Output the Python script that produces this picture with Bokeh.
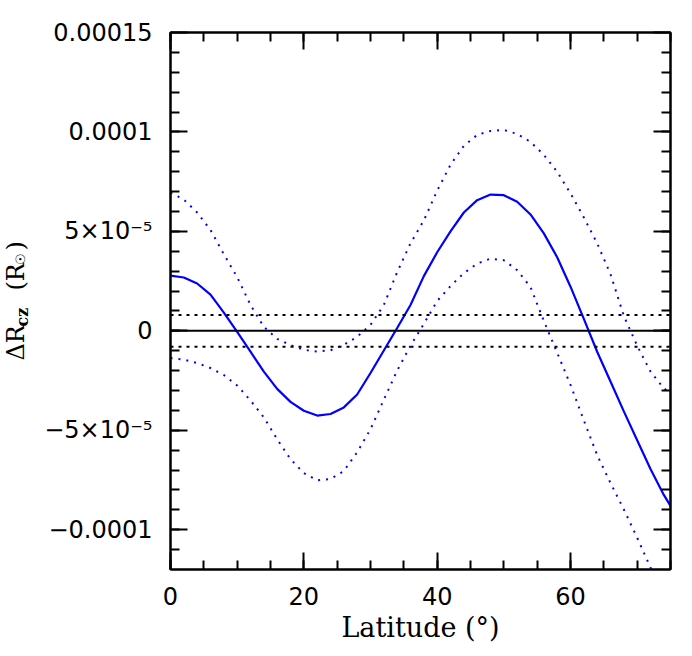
import math
from bokeh.plotting import figure
from bokeh.layouts import row
from bokeh.models import (Range1d, LinearAxis, FixedTicker, CustomJSTickFormatter,
                          Label, Span)
from bokeh.embed import file_html
from bokeh.resources import INLINE

# ---- data (units of 1e-5 R_sun) ----
lat_best = [0, 2, 4, 6, 8, 10, 12, 14, 16, 18, 20, 22, 24, 26, 28, 30, 32, 34, 36, 38,
            40, 42, 44, 46, 48, 50, 52, 54, 56, 58, 60, 62, 64, 66, 68, 70, 72, 74, 75]
dr_best = [2.78, 2.68, 2.38, 1.82, 0.92, -0.05, -1.05, -2.05, -2.92, -3.57, -4.02, -4.26,
           -4.18, -3.85, -3.20, -2.12, -0.99, 0.14, 1.30, 2.75, 3.95, 5.00, 5.95, 6.57,
           6.85, 6.82, 6.49, 5.85, 4.90, 3.70, 2.22, 0.60, -1.05, -2.55, -4.05, -5.50,
           -6.95, -8.25, -8.80]

lat_upper = [0, 2, 4, 6, 8, 10, 12, 14, 16, 18, 20, 22, 24, 26, 28, 30, 32, 34, 36, 38,
             40, 42, 44, 46, 48, 50, 52, 54, 56, 58, 60, 62, 64, 66, 68, 70, 72, 74, 75]
dr_upper = [6.95, 6.60, 5.95, 5.07, 3.85, 2.70, 1.30, 0.20, -0.40, -0.72, -0.95, -1.04,
            -0.98, -0.70, -0.30, 0.30, 1.30, 2.95, 4.40, 5.55, 7.05, 8.35, 9.30, 9.85,
            10.05, 10.10, 9.90, 9.50, 8.85, 8.00, 6.91, 5.70, 4.40, 2.85, 0.75, -0.75,
            -2.05, -2.90, -3.10]

lat_lower = [0, 2, 4, 6, 8, 10, 12, 14, 16, 18, 20, 22, 24, 26, 28, 30, 32, 34, 36, 38,
             40, 42, 44, 46, 48, 50, 52, 54, 56, 58, 60, 62, 64, 66, 68, 70, 72, 73]
dr_lower = [-1.37, -1.45, -1.62, -1.87, -2.22, -2.75, -3.50, -4.35, -5.45, -6.45, -7.15,
            -7.52, -7.45, -7.05, -6.10, -4.95, -3.46, -2.00, -0.75, 0.35, 1.50, 2.25,
            2.90, 3.38, 3.63, 3.55, 3.05, 2.20, 0.50, -1.10, -2.72, -4.50, -6.25, -7.65,
            -8.98, -10.40, -11.90, -12.60]

ref_zero = [0.0]
ref_band = [-0.8, 0.8]

scale = 1e-5
y_best = [v * scale for v in dr_best]
y_upper = [v * scale for v in dr_upper]
y_lower = [v * scale for v in dr_lower]

x_major = [0, 20, 40, 60]
x_minor = [5 * i for i in range(16)]
y_major = [-1e-4, -5e-5, 0.0, 5e-5, 1e-4, 1.5e-4]
y_major_labels = ["\u22120.0001", "\u22125\u00d710\u207b\u2075", "0",
                  "5\u00d710\u207b\u2075", "0.0001", "0.00015"]
y_minor = [k * 1e-5 for k in range(-12, 16)]

x_title = "Latitude (\u00b0)"
y_title_parts = ["\u0394R", "cz", "(R", "\u2609", ")"]

H = 648
LW = 40
FRAME_BOTTOM = 569   # page y of the (row-aligned) frame bottom
XSHIFT = 13

p = figure(width=644, height=H, output_backend="svg", toolbar_location=None,
           x_range=Range1d(0, 75), y_range=Range1d(-0.00012, 0.00015),
           min_border_left=130, min_border_right=14, min_border_top=32,
           min_border_bottom=79)
p.xgrid.visible = False
p.ygrid.visible = False
p.outline_line_color = "black"
p.outline_line_width = 2
p.background_fill_color = "white"
p.border_fill_color = "white"

yfmt = CustomJSTickFormatter(args=dict(vals=y_major, labs=y_major_labels), code="""
for (let i = 0; i < vals.length; i++) {
  if (Math.abs(tick - vals[i]) < 1e-12) { return labs[i]; }
}
return '';
""")
blank = CustomJSTickFormatter(code="return '';")


def style(ax, ticker, show_labels):
    ax.ticker = ticker
    ax.axis_line_width = 2
    ax.axis_line_color = "black"
    ax.major_tick_in = 17
    ax.major_tick_out = 0
    ax.minor_tick_in = 9
    ax.minor_tick_out = 0
    ax.major_tick_line_width = 2
    ax.minor_tick_line_width = 2
    ax.major_tick_line_color = "black"
    ax.minor_tick_line_color = "black"
    ax.major_label_text_font = "DejaVu Sans"
    ax.major_label_text_font_size = "24px"
    ax.major_label_text_color = "black"
    ax.major_label_standoff = 18
    if not show_labels:
        ax.formatter = blank
        ax.major_label_standoff = 0


style(p.xaxis[0], FixedTicker(ticks=x_major, minor_ticks=x_minor), True)
style(p.yaxis[0], FixedTicker(ticks=y_major, minor_ticks=y_minor), True)
p.xaxis[0].major_label_standoff = 17
p.yaxis[0].formatter = yfmt
p.xaxis[0].axis_label = x_title
p.xaxis[0].axis_label_text_font = "DejaVu Serif"
p.xaxis[0].axis_label_text_font_size = "27px"
p.xaxis[0].axis_label_text_font_style = "normal"
p.xaxis[0].axis_label_text_color = "black"
p.xaxis[0].axis_label_standoff = 4

top = LinearAxis()
right = LinearAxis()
style(top, FixedTicker(ticks=x_major, minor_ticks=x_minor), False)
style(right, FixedTicker(ticks=y_major, minor_ticks=y_minor), False)
p.add_layout(top, "above")
p.add_layout(right, "right")

# reference lines
p.add_layout(Span(location=ref_zero[0], dimension="width", line_color="black",
                  line_width=2))
for loc in ref_band:
    p.add_layout(Span(location=loc * scale, dimension="width", line_color="black",
                      line_width=2, line_dash="3 5"))

p.line(lat_best, y_best, line_color="#0000ff", line_width=2.2)
p.line(lat_upper, y_upper, line_color="#0000ff", line_width=2, line_dash="2 6")
p.line(lat_lower, y_lower, line_color="#0000ff", line_width=2, line_dash="2 6")

# ---- narrow panel holding the rotated y-axis title ----
q = figure(width=LW, height=H, output_backend="svg", toolbar_location=None,
           x_range=Range1d(0, LW), y_range=Range1d(0, H),
           x_axis_location=None, y_axis_location=None,
           min_border=0, min_border_left=0, min_border_right=0,
           min_border_top=0, min_border_bottom=0)
q.xgrid.visible = False
q.ygrid.visible = False
q.outline_line_color = None
q.background_fill_color = "white"
q.border_fill_color = "white"

rot = math.pi / 2
ylab_pos = [(28, 360, "24px", "normal"), (35, 326, "16px", "bold"),
            (28, 290, "24px", "normal"), (33, 264, "13px", "normal"),
            (28, 250, "24px", "normal")]
for txt, (xs, ys, fs, st) in zip(y_title_parts, ylab_pos):
    q.add_layout(Label(x=xs - XSHIFT, y=FRAME_BOTTOM - ys, x_units="screen",
                       y_units="screen", text=txt,
                       angle=rot, text_font="DejaVu Serif", text_font_size=fs,
                       text_font_style=st, text_align="left",
                       text_baseline="alphabetic", text_color="black"))

layout = row(q, p, spacing=0)
open("out.html", "w").write(file_html(layout, INLINE))
